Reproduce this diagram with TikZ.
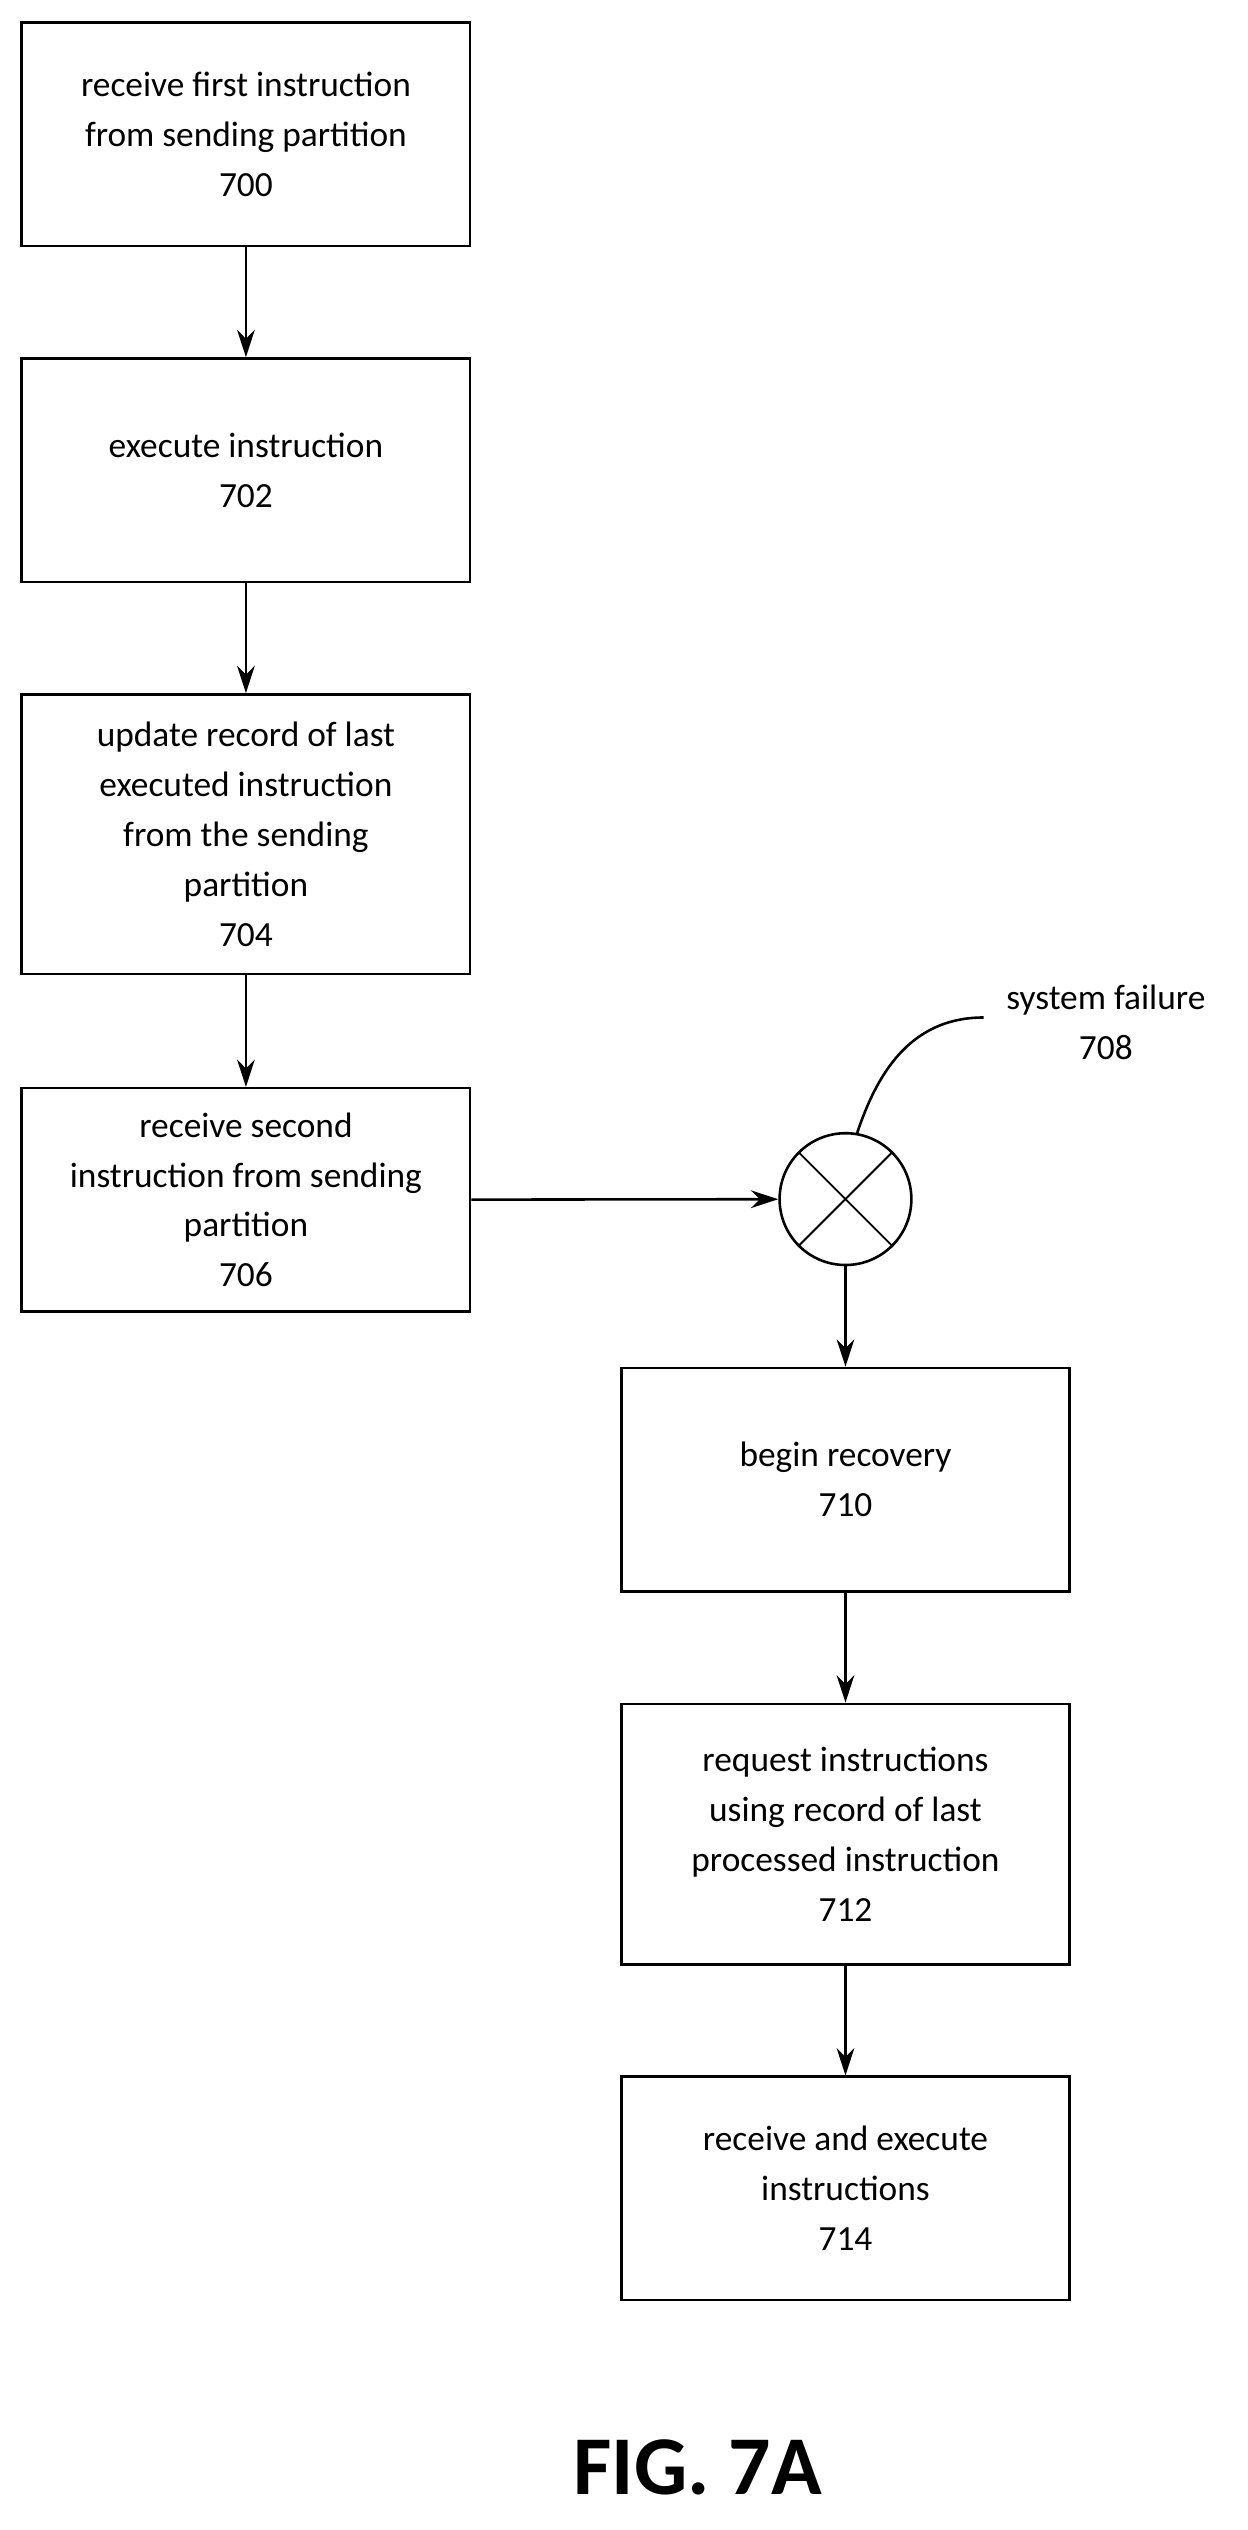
\documentclass[tikz,border=0pt]{standalone}
\usepackage{fontspec}
\setmainfont{Carlito}
\usetikzlibrary{arrows.meta}
\begin{document}
\begin{tikzpicture}[x=1pt,y=-1pt,
  box/.style={draw,line width=1.6pt,minimum width=279pt,align=center,inner sep=0pt,font=\fontsize{22}{31}\selectfont},
  arr/.style={line width=1.6pt,-{Stealth[length=17pt,width=11pt]}}]
\useasboundingbox (0,0) rectangle (776,1574);
\node[box,minimum height=139pt] (b700) at (153,83.5) {receive first instruction\\from sending partition\\700};
\node[box,minimum height=139pt] (b702) at (153,292.5) {execute instruction\\702};
\node[box,minimum height=174pt] (b704) at (153,519) {update record of last\\executed instruction\\from the sending\\partition\\704};
\node[box,minimum height=139pt] (b706) at (153,746.5) {receive second\\instruction from sending\\partition\\706};
\node[draw,circle,line width=1.6pt,minimum size=82pt,inner sep=0pt] (c) at (526,746) {};
\draw[line width=1.2pt] (c.45) -- (c.225) (c.135) -- (c.315);
\node[font=\fontsize{22}{31}\selectfont,align=center] (sf) at (688,636) {system failure\\708};
\coordinate (sfe) at (612,633);
\draw[line width=1.6pt] (c.80) .. controls (545,670) and (565,633) .. (sfe);
\node[box,minimum height=139pt] (b710) at (526,920.5) {begin recovery\\710};
\node[box,minimum height=162pt] (b712) at (526,1141) {request instructions\\using record of last\\processed instruction\\712};
\node[box,minimum height=139pt] (b714) at (526,1361.5) {receive and execute\\instructions\\714};
\draw[arr] (b700) -- (b702);
\draw[arr] (b702) -- (b704);
\draw[arr] (b704) -- (b706);
\draw[arr] (b706) -- (c);
\draw[arr] (c) -- (b710);
\draw[arr] (b710) -- (b712);
\draw[arr] (b712) -- (b714);
\node[font=\fontsize{52}{60}\selectfont\bfseries] (fig) at (434,1535) {FIG. 7A};
\end{tikzpicture}
\end{document}
